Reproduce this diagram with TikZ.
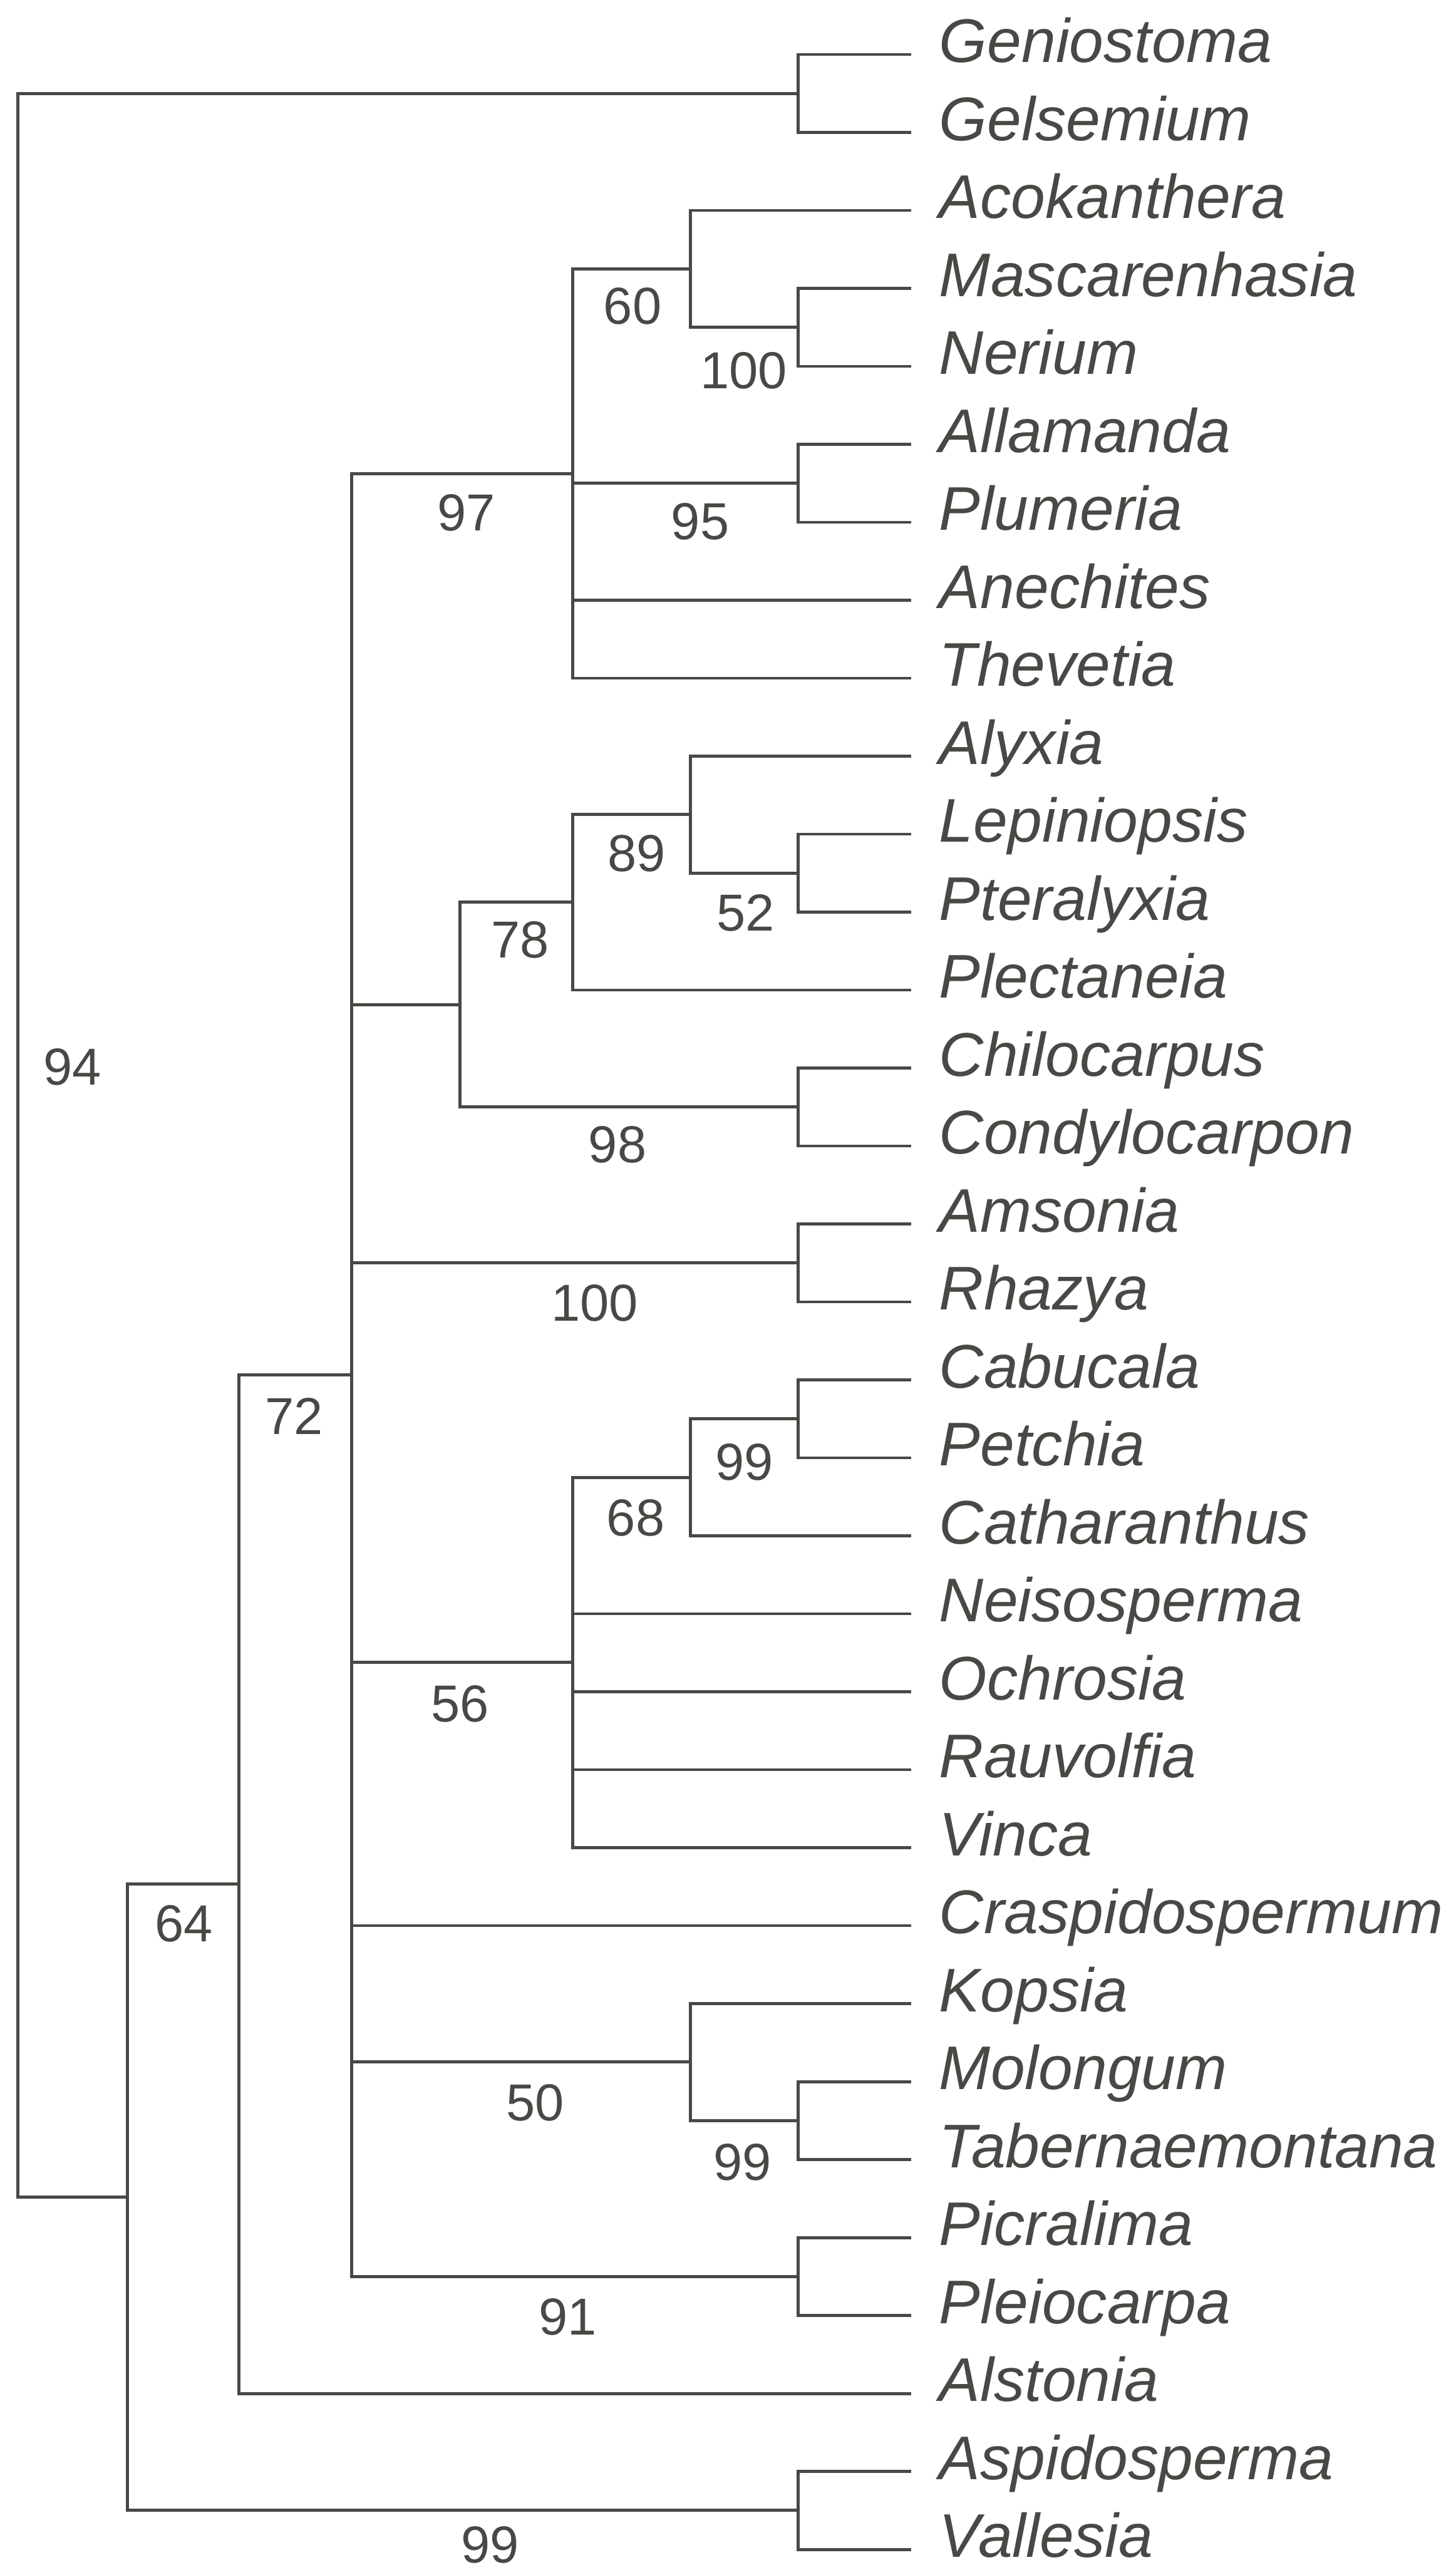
\documentclass[tikz,border=0pt]{standalone}
\usepackage{fontspec}
\setmainfont{Liberation Sans}
\definecolor{ink}{RGB}{72,72,68}
\begin{document}
\begin{tikzpicture}[x=1pt,y=-1pt,
  branch/.style={draw=ink,line width=1.9pt,line join=miter},
  taxon/.style={anchor=base west,inner sep=0pt,text=ink,font=\fontsize{37.7}{40}\selectfont\itshape},
  support/.style={anchor=center,inner sep=0pt,text=ink,font=\fontsize{31.8}{34}\selectfont}]
\useasboundingbox (0,0) rectangle (890,1568);
% leaves
\foreach \i/\nm in {0/Geniostoma,1/Gelsemium,2/Acokanthera,3/Mascarenhasia,4/Nerium,5/Allamanda,6/Plumeria,7/Anechites,8/Thevetia,9/Alyxia,10/Lepiniopsis,11/Pteralyxia,12/Plectaneia,13/Chilocarpus,14/Condylocarpon,15/Amsonia,16/Rhazya,17/Cabucala,18/Petchia,19/Catharanthus,20/Neisosperma,21/Ochrosia,22/Rauvolfia,23/Vinca,24/Craspidospermum,25/Kopsia,26/Molongum,27/Tabernaemontana,28/Picralima,29/Pleiocarpa,30/Alstonia,31/Aspidosperma,32/Vallesia}{
  \coordinate (L\i) at (557,{33.3+47.66*\i});
  \node[taxon] (T\i) at (574,{38.1+47.66*\i}) {\nm};
}
% internal nodes
\coordinate (root) at (11,700.2);
\coordinate (gg) at (488,57.2);
\coordinate (n64) at (78,1343.2);
\coordinate (n72) at (146,1151.8);
\coordinate (nAV) at (488,1534.6);
\coordinate (npoly) at (215,840.5);
\coordinate (n97) at (350,289.5);
\coordinate (n60) at (422,164.4);
\coordinate (n100a) at (488,200.2);
\coordinate (n95) at (488,295.5);
\coordinate (n7898) at (281,614.1);
\coordinate (n78) at (350,551.6);
\coordinate (n89) at (422,498.0);
\coordinate (n52) at (488,533.8);
\coordinate (n98) at (488,676.7);
\coordinate (nAR) at (488,772.0);
\coordinate (n56) at (350,1016.3);
\coordinate (n68) at (422,903.1);
\coordinate (n99a) at (488,867.4);
\coordinate (n50) at (422,1260.5);
\coordinate (n99b) at (488,1296.3);
\coordinate (n91) at (488,1391.6);
% branches
\foreach \p/\c in {root/gg,root/n64,gg/L0,gg/L1,n64/n72,n64/nAV,nAV/L31,nAV/L32,
  n72/npoly,n72/L30,
  npoly/n97,npoly/n7898,npoly/nAR,npoly/n56,npoly/L24,npoly/n50,npoly/n91,
  n97/n60,n97/n95,n97/L7,n97/L8,n60/L2,n60/n100a,n100a/L3,n100a/L4,n95/L5,n95/L6,
  n7898/n78,n7898/n98,n78/n89,n78/L12,n89/L9,n89/n52,n52/L10,n52/L11,n98/L13,n98/L14,
  nAR/L15,nAR/L16,
  n56/n68,n56/L20,n56/L21,n56/L22,n56/L23,n68/n99a,n68/L19,n99a/L17,n99a/L18,
  n50/L25,n50/n99b,n99b/L26,n99b/L27,n91/L28,n91/L29}
  \draw[branch] (\p) |- (\c);
% support values
\node[support] (s94) at (44.3,652.2) {94};
\node[support] (s60) at (386.7,187) {60};
\node[support] (s100a) at (454.6,226.4) {100};
\node[support] (s97) at (284.9,313.6) {97};
\node[support] (s95) at (428,318.8) {95};
\node[support] (s89) at (389.3,521.8) {89};
\node[support] (s52) at (455.7,558) {52};
\node[support] (s78) at (318,574.7) {78};
\node[support] (s98) at (377.5,699.8) {98};
\node[support] (s100b) at (363.5,796.4) {100};
\node[support] (s72) at (179.7,865.7) {72};
\node[support] (s99a) at (455,894) {99};
\node[support] (s68) at (388.6,927.8) {68};
\node[support] (s56) at (281.2,1041.7) {56};
\node[support] (s64) at (112.5,1176) {64};
\node[support] (s50) at (327.3,1285.6) {50};
\node[support] (s99b) at (453.9,1321.8) {99};
\node[support] (s91) at (346.9,1416.2) {91};
\node[support] (s99c) at (299.6,1555.6) {99};
\end{tikzpicture}
\end{document}
